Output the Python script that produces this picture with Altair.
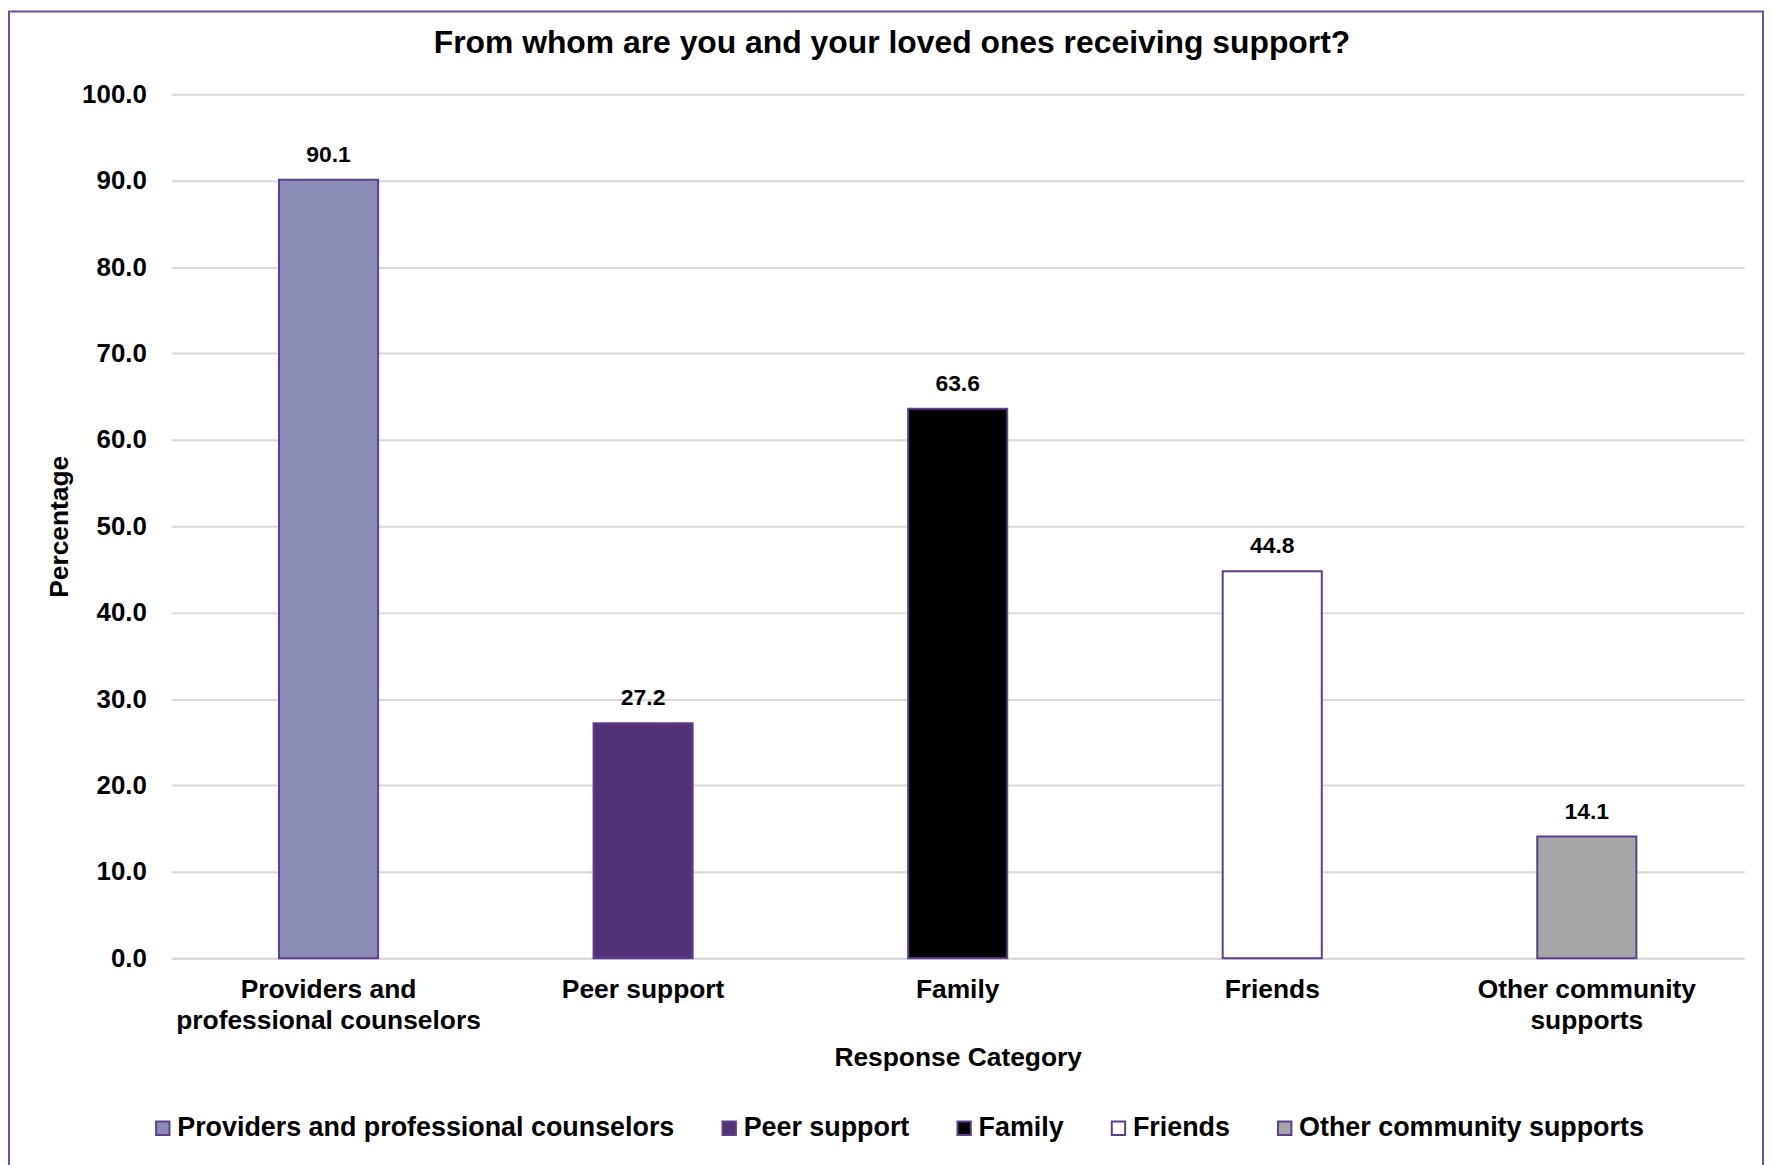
import altair as alt
import pandas as pd

# ---- data ----
categories = [
    "Providers and professional counselors",
    "Peer support",
    "Family",
    "Friends",
    "Other community supports",
]
values = [90.1, 27.2, 63.6, 44.8, 14.1]
bar_colors = ["#898cb4", "#533176", "#000000", "#ffffff", "#a6a6a6"]
label_lines = [
    ["Providers and", "professional counselors"],
    ["Peer support"],
    ["Family"],
    ["Friends"],
    ["Other community", "supports"],
]
y_ticks = [0, 10, 20, 30, 40, 50, 60, 70, 80, 90, 100]

FONT = "Liberation Sans"
PURPLE = "#5e3f8e"

df = pd.DataFrame({"category": categories, "value": values})

# multi-line x labels built from label_lines
expr = "datum.label"
for cat, lines in zip(categories, label_lines):
    arr = "[" + ",".join("'" + l + "'" for l in lines) + "]"
    expr = f"datum.value == '{cat}' ? {arr} : ({expr})"

x_enc = alt.X(
    "category:N",
    sort=categories,
    scale=alt.Scale(paddingInner=0.685, paddingOuter=0.3425),
    axis=alt.Axis(
        title="Response Category",
        titleFont=FONT,
        titleFontSize=26.5,
        titleFontWeight="bold",
        titleColor="black",
        titleBaseline="alphabetic",
        titleY=108,
        labelExpr=expr,
        labelAngle=0,
        labelFont=FONT,
        labelFontSize=26.5,
        labelFontWeight="bold",
        labelColor="black",
        labelPadding=18,
        labelLineHeight=32,
        labelBaseline="top",
        labelLimit=700,
        ticks=False,
        tickSize=0,
        domainColor="#d9d9d9",
        domainWidth=2,
        grid=False,
    ),
)

y_enc = alt.Y(
    "value:Q",
    scale=alt.Scale(domain=[0, 100], nice=False),
    axis=alt.Axis(
        title="Percentage",
        titleFont=FONT,
        titleFontSize=26.5,
        titleFontWeight="bold",
        titleColor="black",
        titleBaseline="alphabetic",
        titleAngle=270,
        titleX=-104,
        titleY=434,
        values=y_ticks,
        format=".1f",
        labelFont=FONT,
        labelFontSize=26,
        labelFontWeight="bold",
        labelColor="black",
        labelPadding=25,
        ticks=False,
        tickSize=0,
        domain=False,
        gridColor="#d9d9d9",
        gridWidth=2,
    ),
)

bars = (
    alt.Chart(df)
    .mark_bar(stroke=PURPLE, strokeWidth=2)
    .encode(
        x=x_enc,
        y=y_enc,
        color=alt.Color(
            "category:N",
            sort=categories,
            scale=alt.Scale(domain=categories, range=bar_colors),
            legend=alt.Legend(
                title=None,
                orient="none",
                direction="horizontal",
                legendX=-22,
                legendY=1025,
                padding=0,
                symbolType="square",
                symbolSize=180,
                symbolStrokeColor=PURPLE,
                symbolStrokeWidth=2,
                symbolOpacity=1,
                labelFont=FONT,
                labelFontSize=27,
                labelFontWeight="bold",
                labelColor="black",
                labelOffset=1,
                columnPadding=41,
                labelLimit=800,
            ),
        ),
    )
)

labels = (
    alt.Chart(df)
    .mark_text(
        font=FONT,
        fontSize=23,
        fontWeight="bold",
        color="black",
        baseline="alphabetic",
        dy=-18,
    )
    .encode(
        x=alt.X("category:N", sort=categories),
        y=alt.Y("value:Q"),
        text=alt.Text("value:Q", format=".1f"),
    )
)

frame = (
    alt.Chart(pd.DataFrame({"k": [0]}))
    .mark_rect(fill="transparent", stroke="#6d4f9e", strokeWidth=2)
    .encode(
        x=alt.value(-163),
        x2=alt.value(1599),
        y=alt.value(-83),
        y2=alt.value(1120),
    )
)

chart = (
    alt.layer(bars, labels, frame)
    .properties(
        width=1580,
        height=868,
        title=alt.TitleParams(
            "From whom are you and your loved ones receiving support?",
            font=FONT,
            fontSize=32,
            fontWeight="bold",
            color="black",
            anchor="middle",
            frame="bounds",
            offset=0,
            dy=50,
            dx=6,
        ),
        autosize=alt.AutoSizeParams(type="none"),
        padding={"left": 164, "top": 84, "right": 21, "bottom": 205},
        background="white",
    )
    .configure_view(stroke=None)
)

chart.save("out.html", embed_options={"renderer": "svg", "actions": False})
